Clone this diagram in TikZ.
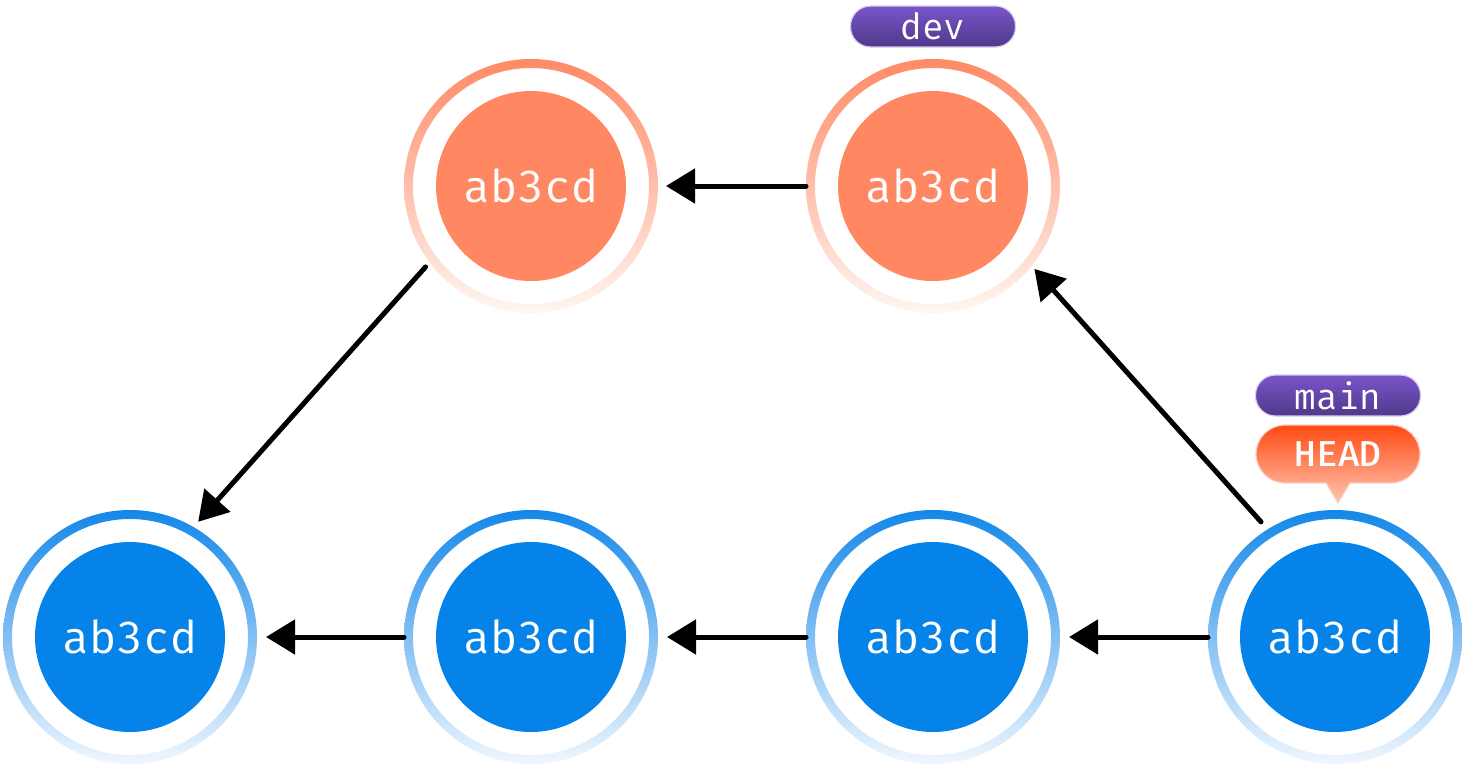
\documentclass[tikz,border=0pt]{standalone}
\usepackage{fontspec}
\newfontfamily\monofont{Fira Mono}
\usetikzlibrary{arrows.meta}
\definecolor{blueDisc}{HTML}{0583E8}
\definecolor{blueRingTop}{HTML}{1487E8}
\definecolor{blueRingBot}{HTML}{F0F7FE}
\definecolor{orangeDisc}{HTML}{FF8862}
\definecolor{orangeRingTop}{HTML}{FF8A65}
\definecolor{orangeRingBot}{HTML}{FFF6F2}
\definecolor{pillTop}{HTML}{7A54C9}
\definecolor{pillBot}{HTML}{4E3A8A}
\definecolor{pillEdge}{HTML}{D9CDF3}
\definecolor{headTop}{HTML}{FF4A12}
\definecolor{headBot}{HTML}{FFC6B3}
\definecolor{headEdge}{HTML}{FBD0C6}
\begin{document}
\begin{tikzpicture}[x=1pt,y=-1pt,
  disc/.style={circle, minimum size=190pt, inner sep=0pt, text=white,
    font=\monofont\fontsize{45}{54}\selectfont},
  bluedisc/.style={disc, fill=blueDisc},
  orangedisc/.style={disc, fill=orangeDisc},
  ringnode/.style={circle, minimum size=254pt, inner sep=0pt, outer sep=0pt},
  bluering/.style={top color=blueRingTop, bottom color=blueRingBot, even odd rule},
  orangering/.style={top color=orangeRingTop, bottom color=orangeRingBot, even odd rule},
  link/.style={line width=5pt, -{Triangle[length=29pt,width=34pt]}, line cap=round},
  pill/.style={rounded corners=20pt, minimum width=165pt, minimum height=41pt, inner sep=0pt,
    text=white, top color=pillTop, bottom color=pillBot, draw=pillEdge, line width=1.2pt,
    font=\monofont\fontsize{36}{40}\selectfont},
  headtext/.style={text=white, inner sep=0pt, font=\monofont\bfseries\fontsize{36}{40}\selectfont}
]
\fill[white] (0,0) rectangle (1462,766);
% rings
\shade[bluering] (130,637) circle[radius=127] (130,637) circle[radius=118];
\shade[bluering] (531,637) circle[radius=127] (531,637) circle[radius=118];
\shade[bluering] (933,637) circle[radius=127] (933,637) circle[radius=118];
\shade[bluering] (1335,637) circle[radius=127] (1335,637) circle[radius=118];
\shade[orangering] (531,186) circle[radius=127] (531,186) circle[radius=118];
\shade[orangering] (933,186) circle[radius=127] (933,186) circle[radius=118];
% ring nodes (for connectors)
\node[ringnode] (r1) at (130,637) {};
\node[ringnode] (r2) at (531,637) {};
\node[ringnode] (r3) at (933,637) {};
\node[ringnode] (r4) at (1335,637) {};
\node[ringnode] (t1) at (531,186) {};
\node[ringnode] (t2) at (933,186) {};
% discs
\node[bluedisc] (d1) at (r1) {ab3cd};
\node[bluedisc] (d2) at (r2) {ab3cd};
\node[bluedisc] (d3) at (r3) {ab3cd};
\node[bluedisc] (d4) at (r4) {ab3cd};
\node[orangedisc] (e1) at (t1) {ab3cd};
\node[orangedisc] (e2) at (t2) {ab3cd};
% connectors
\draw[link, shorten >=9pt] (r2.west) -- (r1.east);
\draw[link, shorten >=9pt] (r3.west) -- (r2.east);
\draw[link, shorten >=9pt] (r4.west) -- (r3.east);
\draw[link, shorten >=8pt] (t2.west) -- (t1.east);
\draw[link, shorten <=6pt, shorten >=7pt] (t1.217) -- (r1.60);
\draw[link, shorten <=10pt, shorten >=4pt] (r4.122) -- (t2.321);
% labels
\node[pill] (dev) at (933,26.5) {dev};
\node[pill] (main) at (1338,395.5) {main};
\shade[top color=headTop, bottom color=headBot, draw=headEdge, line width=1.2pt]
  (1285,425) -- (1391,425) arc[start angle=-90, end angle=90, radius=29]
  -- (1350,483) -- (1338,503) -- (1326,483) -- (1285,483)
  arc[start angle=90, end angle=270, radius=29] -- cycle;
\node[headtext] (head) at (1338,454) {HEAD};
\end{tikzpicture}
\end{document}
